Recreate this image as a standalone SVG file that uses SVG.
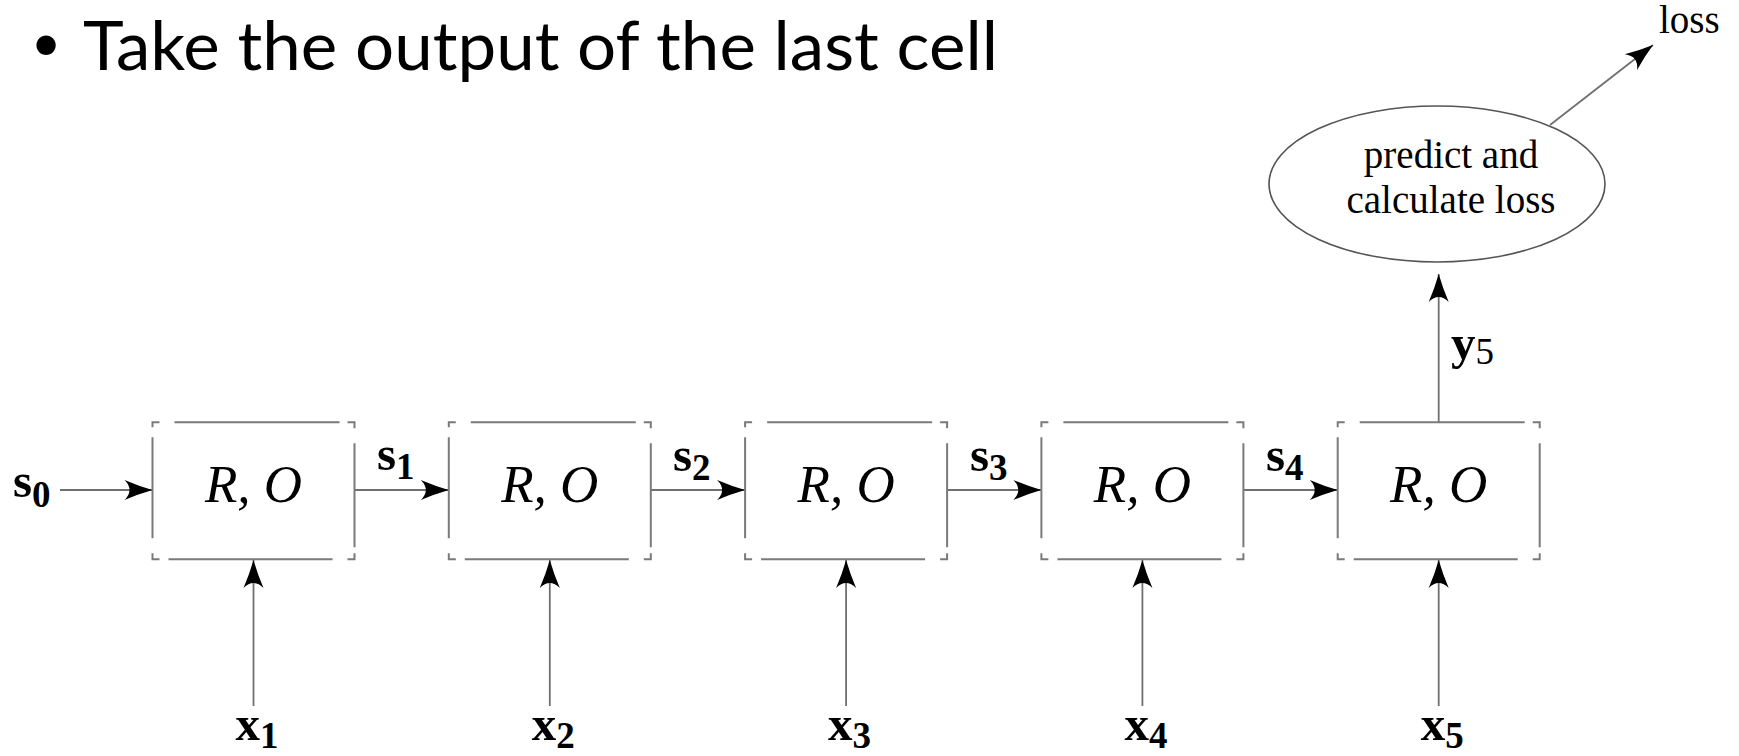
<svg xmlns="http://www.w3.org/2000/svg" xmlns:xlink="http://www.w3.org/1999/xlink" width="1739" height="756" viewBox="0 0 1739 756">
<style>
.frame{fill:none;stroke:#7a7a7a;stroke-width:2}
.conn{fill:none;stroke:#707070;stroke-width:1.8}
.ro{font-family:"Liberation Serif",serif;font-style:italic;font-size:53px;fill:#000;text-anchor:middle}
.lab{font-family:"Liberation Serif",serif;font-weight:bold;font-size:49px;fill:#000}
.sub{font-size:37px}
.rm{font-family:"Liberation Serif",serif;font-size:39px;fill:#000}
.title{font-family:Lato,"Open Sans",sans-serif;font-size:68px;fill:#000}
</style>
<defs>
<marker id="ah" markerUnits="userSpaceOnUse" viewBox="-30 -11 31 22" refX="0" refY="0" markerWidth="31" markerHeight="22" orient="auto">
<path d="M0,0 Q-14,-4 -28,-10 Q-18,0 -28,10 Q-14,4 0,0 Z" fill="#000"/>
</marker>
<path id="cell" class="frame" d="M0,5 V0 H7 M22,0 H187 M195,0 H202 V6 M202,21 V125 M202,131 V137 H195 M180,137 H16 M7,137 H0 V131 M0,116 V15"/>
</defs>
<rect width="1739" height="756" fill="#fff"/>

<g id="title">
<text class="title" x="31" y="61" style="font-size:52px">•</text>
<text class="title" x="83" y="70" textLength="915" lengthAdjust="spacingAndGlyphs">Take the output of the last cell</text>
</g>

<g id="connectors">
<line class="conn" x1="60" y1="490" x2="152.5" y2="490" marker-end="url(#ah)"/>
<line class="conn" x1="354.5" y1="490" x2="448.8" y2="490" marker-end="url(#ah)"/>
<line class="conn" x1="650.8" y1="490" x2="745.1" y2="490" marker-end="url(#ah)"/>
<line class="conn" x1="947.1" y1="490" x2="1041.4" y2="490" marker-end="url(#ah)"/>
<line class="conn" x1="1243.4" y1="490" x2="1337.7" y2="490" marker-end="url(#ah)"/>
<line class="conn" x1="253.5" y1="706" x2="253.5" y2="560" marker-end="url(#ah)"/>
<line class="conn" x1="549.8" y1="706" x2="549.8" y2="560" marker-end="url(#ah)"/>
<line class="conn" x1="846.1" y1="706" x2="846.1" y2="560" marker-end="url(#ah)"/>
<line class="conn" x1="1142.4" y1="706" x2="1142.4" y2="560" marker-end="url(#ah)"/>
<line class="conn" x1="1438.7" y1="706" x2="1438.7" y2="560" marker-end="url(#ah)"/>
<line class="conn" x1="1438.7" y1="422" x2="1438.7" y2="274" marker-end="url(#ah)"/>
<line class="conn" x1="1550" y1="125" x2="1653" y2="45" marker-end="url(#ah)"/>
<text class="lab" x="13" y="497">s<tspan class="sub" dy="10">0</tspan></text>
<text class="lab" x="377" y="470">s<tspan class="sub" dy="9">1</tspan></text>
<text class="lab" x="673" y="471">s<tspan class="sub" dy="9">2</tspan></text>
<text class="lab" x="970" y="471">s<tspan class="sub" dy="9">3</tspan></text>
<text class="lab" x="1266" y="471">s<tspan class="sub" dy="9">4</tspan></text>
<text class="lab" x="257" y="740" text-anchor="middle">x<tspan class="sub" dy="8">1</tspan></text>
<text class="lab" x="553.3" y="740" text-anchor="middle">x<tspan class="sub" dy="8">2</tspan></text>
<text class="lab" x="849.6" y="740" text-anchor="middle">x<tspan class="sub" dy="8">3</tspan></text>
<text class="lab" x="1145.9" y="740" text-anchor="middle">x<tspan class="sub" dy="8">4</tspan></text>
<text class="lab" x="1442.2" y="740" text-anchor="middle">x<tspan class="sub" dy="8">5</tspan></text>
<text class="lab" x="1451" y="359">y<tspan class="sub" dy="5" font-weight="normal">5</tspan></text>
</g>

<g id="cell1" transform="translate(152.5,422.3)"><use xlink:href="#cell"/><text class="ro" x="101" y="80">R, O</text></g>
<g id="cell2" transform="translate(448.8,422.3)"><use xlink:href="#cell"/><text class="ro" x="101" y="80">R, O</text></g>
<g id="cell3" transform="translate(745.1,422.3)"><use xlink:href="#cell"/><text class="ro" x="101" y="80">R, O</text></g>
<g id="cell4" transform="translate(1041.4,422.3)"><use xlink:href="#cell"/><text class="ro" x="101" y="80">R, O</text></g>
<g id="cell5" transform="translate(1337.7,422.3)"><use xlink:href="#cell"/><text class="ro" x="101" y="80">R, O</text></g>

<g id="predict">
<ellipse cx="1437" cy="184" rx="168" ry="78" fill="none" stroke="#555" stroke-width="1.6"/>
<text class="rm" x="1451" y="168" text-anchor="middle">predict and</text>
<text class="rm" x="1451" y="213" text-anchor="middle">calculate loss</text>
</g>

<g id="loss">
<text class="rm" x="1659" y="33">loss</text>
</g>
</svg>
